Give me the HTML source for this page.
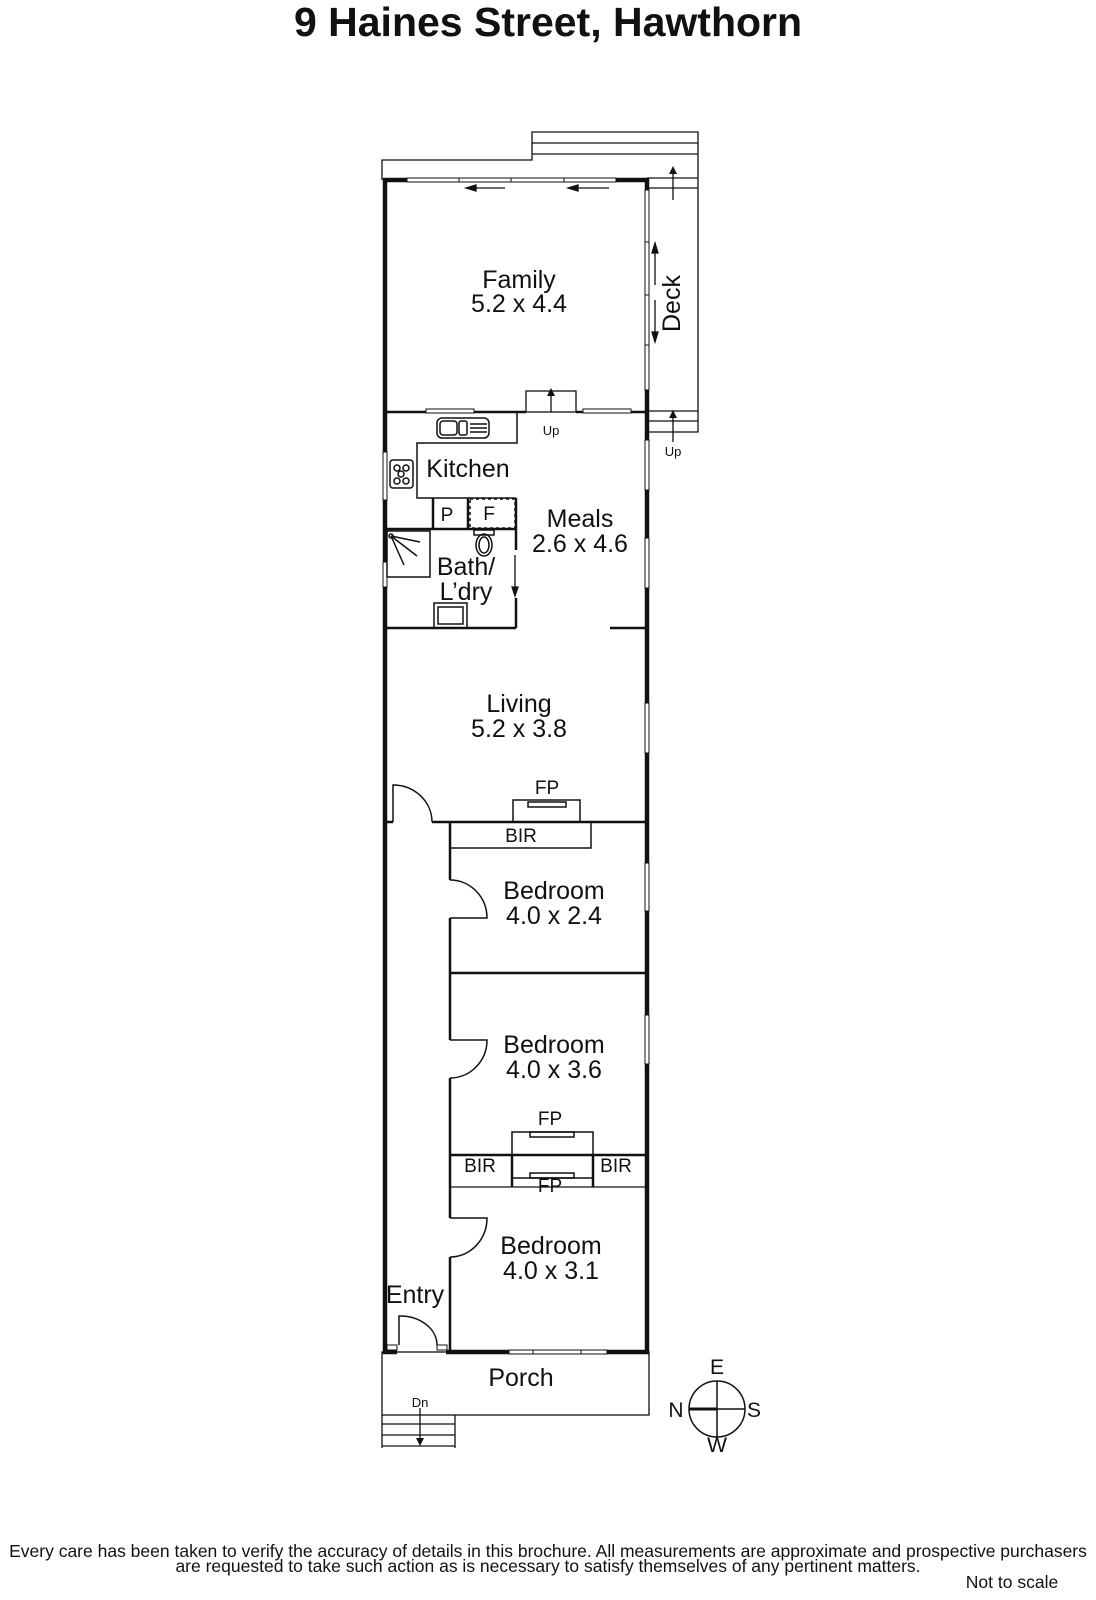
<!DOCTYPE html>
<html><head><meta charset="utf-8"><style>
html,body{margin:0;padding:0;background:#fff;}
svg{display:block;}
text{font-family:"Liberation Sans",sans-serif;fill:#111;}
</style></head><body>
<svg width="1096" height="1600" viewBox="0 0 1096 1600" xmlns="http://www.w3.org/2000/svg">
<text x="548" y="36" font-size="41" font-weight="bold" text-anchor="middle">9 Haines Street, Hawthorn</text>

<g fill="none" stroke="#111" stroke-width="1.3">
  <path d="M382 180 V160 H532 V132 H698 V432 H647"/>
  <line x1="532" y1="143" x2="698" y2="143"/>
  <line x1="532" y1="154" x2="698" y2="154"/>
  <line x1="647" y1="178" x2="698" y2="178"/>
  <line x1="647" y1="188" x2="698" y2="188"/>
  <line x1="647" y1="411" x2="698" y2="411"/>
  <line x1="647" y1="421" x2="698" y2="421"/>
  <rect x="526" y="391" width="50" height="21"/>
  <line x1="551" y1="412" x2="551" y2="393"/>
  <line x1="673" y1="200" x2="673" y2="172"/>
  <line x1="673" y1="442" x2="673" y2="416"/>
  <rect x="382" y="1352" width="267" height="63"/>
  <path d="M382 1415 V1448 M455 1415 V1448 M382 1424 H455 M382 1435 H455 M382 1446 H455"/>
  <line x1="420" y1="1408" x2="420" y2="1440"/>
</g>
<g fill="#111">
  <polygon points="673,166 669,174 677,174"/>
  <polygon points="673,410 669,418 677,418"/>
  <polygon points="551,388 547,396 555,396"/>
  <polygon points="420,1446 416,1438 424,1438"/>
</g>

<g stroke="#111" stroke-width="4.5" fill="none">
  <line x1="385" y1="178" x2="385" y2="1354"/>
  <line x1="647" y1="178" x2="647" y2="1354"/>
  <line x1="383" y1="180" x2="407" y2="180"/>
  <line x1="616" y1="180" x2="649" y2="180"/>
  <line x1="383" y1="1352" x2="397" y2="1352"/>
  <line x1="446" y1="1352" x2="509" y2="1352"/>
  <line x1="607" y1="1352" x2="649" y2="1352"/>
</g>
<g fill="#fff" stroke="#111" stroke-width="1">
  <rect x="407" y="178" width="209" height="4"/>
  <rect x="645" y="190" width="4" height="200"/>
  <rect x="645" y="440" width="4" height="50"/>
  <rect x="645" y="538" width="4" height="50"/>
  <rect x="645" y="703" width="4" height="50"/>
  <rect x="645" y="863" width="4" height="48"/>
  <rect x="645" y="1015" width="4" height="49"/>
  <rect x="383" y="452" width="4" height="48"/>
  <rect x="383" y="562" width="4" height="25"/>
  <rect x="509" y="1350" width="98" height="4"/>
  <rect x="426" y="409" width="48" height="4"/>
  <rect x="583" y="409" width="48" height="4"/>
  <rect x="387" y="1345" width="10" height="5"/>
  <rect x="437" y="1345" width="10" height="5"/>
</g>
<g stroke="#111" stroke-width="1">
  <line x1="459" y1="178" x2="459" y2="182"/><line x1="511" y1="178" x2="511" y2="182"/><line x1="564" y1="178" x2="564" y2="182"/>
  <line x1="645" y1="242" x2="649" y2="242"/><line x1="645" y1="295" x2="649" y2="295"/><line x1="645" y1="345" x2="649" y2="345"/>
  <line x1="533" y1="1350" x2="533" y2="1354"/><line x1="581" y1="1350" x2="581" y2="1354"/>
</g>
<g stroke="#111" stroke-width="1.3" fill="#111">
  <line x1="475" y1="188" x2="505" y2="188"/><polygon points="466,188 476,185 476,191"/>
  <line x1="577" y1="188" x2="609" y2="188"/><polygon points="568,188 578,185 578,191"/>
  <line x1="655" y1="250" x2="655" y2="285"/><polygon points="655,243 652,253 658,253"/>
  <line x1="655" y1="300" x2="655" y2="335"/><polygon points="655,342 652,332 658,332"/>
  <line x1="515" y1="555" x2="515" y2="590"/><polygon points="515,596 512,587 518,587"/>
</g>

<g stroke="#111" stroke-width="2.5" fill="none">
  <line x1="385" y1="412" x2="426" y2="412"/>
  <line x1="474" y1="412" x2="526" y2="412"/>
  <line x1="576" y1="412" x2="583" y2="412"/>
  <line x1="631" y1="412" x2="647" y2="412"/>
  <line x1="385" y1="529" x2="516" y2="529"/>
  <line x1="433" y1="498" x2="433" y2="529"/>
  <line x1="468" y1="498" x2="468" y2="529"/>
  <line x1="516" y1="498" x2="516" y2="550"/>
  <line x1="516" y1="598" x2="516" y2="628"/>
  <line x1="385" y1="628" x2="516" y2="628"/>
  <line x1="610" y1="628" x2="647" y2="628"/>
  <line x1="385" y1="822" x2="393" y2="822"/>
  <line x1="432" y1="822" x2="647" y2="822"/>
  <line x1="450" y1="822" x2="450" y2="880"/>
  <line x1="450" y1="918" x2="450" y2="1040"/>
  <line x1="450" y1="1078" x2="450" y2="1218"/>
  <line x1="450" y1="1257" x2="450" y2="1352"/>
  <line x1="450" y1="973" x2="647" y2="973"/>
  <line x1="450" y1="1155" x2="647" y2="1155"/>
  <line x1="512" y1="1155" x2="512" y2="1187"/>
  <line x1="593" y1="1155" x2="593" y2="1187"/>
</g>
<g stroke="#111" stroke-width="1.5" fill="none">
  <path d="M517 412 V443 H417 V498 H516"/>
  <rect x="437" y="418" width="52" height="20" rx="5"/>
  <rect x="440" y="421" width="17" height="14" rx="3"/>
  <rect x="459" y="421" width="8" height="14" rx="2"/>
  <path d="M470 424 H487 M470 428 H487 M470 432 H487"/>
  <rect x="390" y="460" width="23" height="28" rx="3"/>
  <circle cx="397" cy="468" r="3"/><circle cx="406" cy="468" r="3"/><circle cx="401" cy="474" r="3"/><circle cx="397" cy="481" r="3"/><circle cx="406" cy="481" r="3"/>
  <rect x="470" y="499" width="45" height="29" stroke-dasharray="3,3"/>
  <rect x="387" y="531" width="43" height="46"/>
  <path d="M391 536 L420 542 M391 536 L417 556 M391 536 L404 565"/>
  <circle cx="391" cy="536" r="2"/>
  <rect x="474" y="530" width="20" height="5"/>
  <ellipse cx="484" cy="545" rx="8" ry="11"/><ellipse cx="484" cy="545" rx="5" ry="8"/>
  <rect x="434" y="603" width="33" height="25"/>
  <rect x="438" y="607" width="25" height="17"/>
  <rect x="450" y="822" width="141" height="26"/>
  <rect x="513" y="800" width="67" height="22"/>
  <rect x="528" y="802" width="38" height="5"/>
  <rect x="512" y="1132" width="81" height="23"/>
  <rect x="530" y="1132" width="44" height="5"/>
  <line x1="512" y1="1178" x2="593" y2="1178"/>
  <rect x="530" y="1173" width="44" height="5"/>
  <line x1="450" y1="1187" x2="647" y2="1187" stroke-width="1.2"/>
  <path d="M393 822 V785 A39 37 0 0 1 432 822"/>
  <path d="M450 880 A37 38 0 0 1 487 918 H450"/>
  <path d="M450 1040 H487 A37 38 0 0 1 450 1078"/>
  <path d="M450 1218 H487 A37 39 0 0 1 450 1257"/>
  <path d="M399 1345 V1316 A37 29 0 0 1 437 1345"/>
  <circle cx="717" cy="1409" r="28"/>
  <line x1="717" y1="1381" x2="717" y2="1437"/>
  <line x1="717" y1="1409" x2="745" y2="1409"/>
</g>
<line x1="689" y1="1409" x2="717" y2="1409" stroke="#111" stroke-width="3"/>

<g font-size="25" text-anchor="middle">
  <text x="519" y="288">Family</text><text x="519" y="312">5.2 x 4.4</text>
  <text x="468" y="477">Kitchen</text>
  <text x="580" y="527">Meals</text><text x="580" y="552">2.6 x 4.6</text>
  <text x="466" y="575">Bath/</text><text x="466" y="600">L’dry</text>
  <text x="519" y="712">Living</text><text x="519" y="737">5.2 x 3.8</text>
  <text x="554" y="899">Bedroom</text><text x="554" y="924">4.0 x 2.4</text>
  <text x="554" y="1053">Bedroom</text><text x="554" y="1078">4.0 x 3.6</text>
  <text x="551" y="1254">Bedroom</text><text x="551" y="1279">4.0 x 3.1</text>
  <text x="415" y="1303">Entry</text>
  <text x="521" y="1386">Porch</text>
</g>
<g font-size="19" text-anchor="middle">
  <text x="447" y="521">P</text><text x="489" y="520">F</text>
  <text x="521" y="842">BIR</text>
  <text x="547" y="794">FP</text>
  <text x="550" y="1125">FP</text><text x="550" y="1192">FP</text>
  <text x="480" y="1172">BIR</text><text x="616" y="1172">BIR</text>
</g>
<g font-size="21" text-anchor="middle">
  <text x="717" y="1374">E</text><text x="754" y="1417">S</text><text x="717" y="1452">W</text><text x="676" y="1417">N</text>
</g>
<text x="0" y="0" font-size="25" transform="translate(680 332) rotate(-90)">Deck</text>
<g font-size="13" text-anchor="middle">
  <text x="551" y="435">Up</text><text x="673" y="456">Up</text><text x="420" y="1407">Dn</text>
</g>
<g font-size="17.5" text-anchor="middle">
  <text x="548" y="1557">Every care has been taken to verify the accuracy of details in this brochure.  All measurements are approximate and prospective purchasers</text>
  <text x="548" y="1572">are requested to take such action as is necessary to satisfy themselves of any pertinent matters.</text>
  <text x="1012" y="1588">Not to scale</text>
</g>
</svg>
</body></html>
